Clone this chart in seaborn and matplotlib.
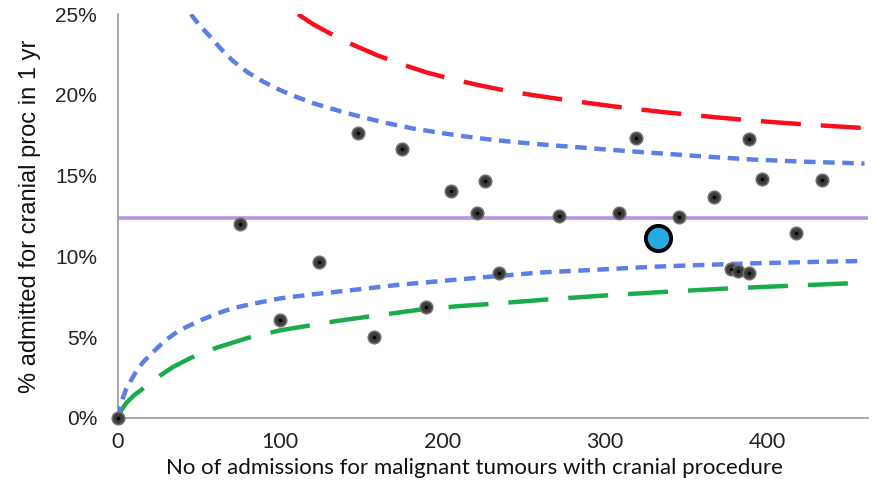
import matplotlib
matplotlib.use("Agg")
import matplotlib.pyplot as plt
import seaborn as sns
import pandas as pd

# ---- data ----
hosp_n = [0, 75, 100, 124, 148, 158, 175, 190, 205, 221, 226, 235, 272, 309, 319,
          346, 367, 378, 382, 389, 389, 397, 418, 434]
hosp_pct = [0.0, 12.0, 6.05, 9.65, 17.65, 5.02, 16.65, 6.84, 14.05, 12.68, 14.65, 8.95,
            12.5, 12.66, 17.35, 12.45, 13.67, 9.24, 9.12, 17.29, 8.98, 14.8, 11.47, 14.76]
focus_n = [333]
focus_pct = [11.15]
mean_pct = 12.4

up95_n = [45, 50, 57, 64, 71, 80, 90, 100, 110, 120, 135, 147, 165, 182, 200, 215,
          230, 248, 265, 285, 300, 320, 340, 355, 375, 391, 410, 425, 445, 460]
up95_pct = [25.0, 24.35, 23.6, 22.8, 22.1, 21.4, 20.8, 20.3, 19.88, 19.5, 19.05, 18.72,
            18.27, 17.92, 17.63, 17.42, 17.23, 17.05, 16.9, 16.75, 16.63, 16.48, 16.34,
            16.23, 16.1, 16.0, 15.92, 15.86, 15.8, 15.75]
lo95_n = [0, 1, 3, 5, 8, 12, 16, 20, 25, 30, 35, 40, 50, 60, 71, 85, 100, 120, 143, 174,
          202, 230, 260, 290, 330, 360, 391, 425, 460]
lo95_pct = [0.0, 0.5, 1.2, 1.75, 2.3, 3.0, 3.5, 3.9, 4.4, 4.85, 5.22, 5.52, 6.0, 6.42,
            6.8, 7.1, 7.4, 7.65, 7.9, 8.25, 8.5, 8.75, 9.0, 9.15, 9.36, 9.47, 9.57, 9.65,
            9.72]
up998_n = [111, 120, 130, 145, 160, 175, 190, 207, 225, 240, 255, 272, 290, 305, 320,
           335, 350, 368, 385, 402, 420, 440, 460]
up998_pct = [25.0, 24.4, 23.85, 23.1, 22.45, 21.9, 21.4, 20.95, 20.55, 20.25, 20.0,
             19.75, 19.5, 19.3, 19.12, 18.95, 18.8, 18.62, 18.47, 18.33, 18.2, 18.07, 17.95]
lo998_n = [0, 2, 5, 10, 18, 25, 34, 45, 61, 80, 100, 118, 135, 155, 186, 210, 229, 267,
           303, 340, 377, 414, 455]
lo998_pct = [0.0, 0.45, 0.9, 1.4, 2.0, 2.55, 3.15, 3.72, 4.35, 4.95, 5.42, 5.72, 6.0,
             6.28, 6.7, 6.92, 7.05, 7.35, 7.6, 7.82, 8.02, 8.18, 8.35]

x_ticks = [0, 100, 200, 300, 400]
y_ticks = [0, 5, 10, 15, 20, 25]
y_tick_labels = ["0%", "5%", "10%", "15%", "20%", "25%"]
x_label = "No of admissions for malignant tumours with cranial procedure"
y_label = "% admitted for cranial proc in 1 yr"

# ---- plot ----
sns.set_theme(style="white")
plt.rcParams["font.family"] = ["Lato", "DejaVu Sans"]
helv = ["Liberation Sans", "DejaVu Sans"]

fig = plt.figure(figsize=(8.73, 4.91), dpi=100)
ax = fig.add_axes([0.135, 0.149, 0.859, 0.822])

ax.axhline(mean_pct, color="#b794dd", lw=2.6, zorder=2)

def curve(xs, ys, color, dashes):
    sns.lineplot(x=xs, y=ys, ax=ax, color=color, lw=3.2, zorder=3, sort=False)
    ax.lines[-1].set_dashes(dashes)
    ax.lines[-1].set_dash_capstyle("butt")

curve(up998_n, up998_pct, "#fb0d1b", [9, 4.5])
curve(lo998_n, lo998_pct, "#1aab4a", [9, 4.5])
curve(up95_n, up95_pct, "#5b7fe6", [2.6, 1.7])
curve(lo95_n, lo95_pct, "#5b7fe6", [2.6, 1.7])

df = pd.DataFrame({"n": hosp_n, "pct": hosp_pct})
sns.scatterplot(data=df, x="n", y="pct", ax=ax, s=80, color="#3c3c3c",
                edgecolor="#707070", linewidth=1.2, zorder=4, clip_on=False)
sns.scatterplot(data=df, x="n", y="pct", ax=ax, s=7, color="black",
                linewidth=0, zorder=5, clip_on=False)
sns.scatterplot(x=focus_n, y=focus_pct, ax=ax, s=330, color="#27aae1",
                edgecolor="black", linewidth=2.8, zorder=6)

ax.set_xlim(0, 462)
ax.set_ylim(0, 25)
ax.set_xticks(x_ticks)
ax.set_yticks(y_ticks)
ax.set_yticklabels(y_tick_labels, fontfamily=helv, fontsize=15, color="#222222")
ax.set_xlabel(x_label, fontsize=16, color="#111111", labelpad=3)
ax.xaxis.set_label_coords(0.476, -0.1)
ax.xaxis.label.set_va("top")
ax.set_ylabel(y_label, fontsize=17, color="#111111", labelpad=10, fontfamily=helv)
ax.tick_params(axis="both", length=5, width=1, direction="out", color="#999999")
ax.tick_params(axis="x", labelsize=15.5, pad=5, labelcolor="#222222")
ax.tick_params(axis="y", pad=10)
for s in ["top", "right"]:
    ax.spines[s].set_visible(False)
for s in ["left", "bottom"]:
    ax.spines[s].set_color("#999999")
    ax.spines[s].set_linewidth(1.2)
ax.grid(False)

fig.savefig("out.png", dpi=100, facecolor="white")
